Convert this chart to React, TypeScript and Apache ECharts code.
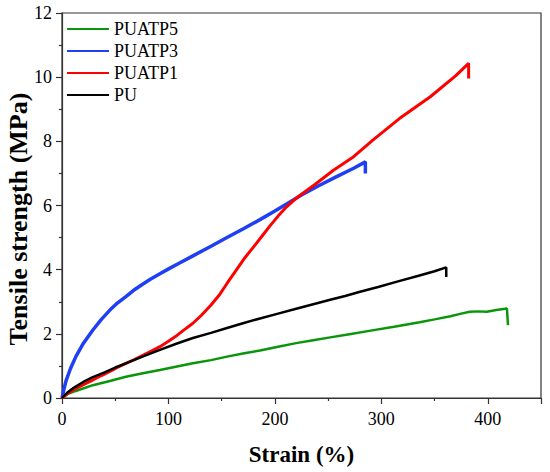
import React, { useEffect, useRef } from "react";
import * as echarts from "echarts";

const seriesNames = ["PUATP5", "PUATP3", "PUATP1", "PU"];

const p5Strain = [0, 5, 13, 29, 45, 60, 76, 92, 108, 123, 140, 155, 170, 186, 203, 220, 236, 252, 270, 290, 312, 336, 350, 365, 375, 383, 391, 399, 408, 418, 419];
const p5Stress = [0, 0.12, 0.22, 0.4, 0.53, 0.66, 0.77, 0.87, 0.98, 1.08, 1.18, 1.29, 1.39, 1.48, 1.6, 1.71, 1.8, 1.89, 1.99, 2.1, 2.22, 2.36, 2.45, 2.55, 2.63, 2.69, 2.7, 2.69, 2.74, 2.79, 2.27];

const p3Strain = [0, 2, 4, 8, 13, 20, 29, 37, 45, 52, 60, 67, 75, 83, 92, 101, 110, 123, 140, 155, 170, 186, 200, 211, 225, 242, 258, 274, 285, 285];
const p3Stress = [0, 0.3, 0.56, 0.92, 1.29, 1.7, 2.12, 2.45, 2.74, 2.96, 3.16, 3.35, 3.53, 3.7, 3.87, 4.04, 4.2, 4.43, 4.73, 5.0, 5.27, 5.56, 5.83, 6.05, 6.33, 6.63, 6.9, 7.16, 7.36, 7.0];

const p1Strain = [0, 5, 10, 15, 22, 29, 37, 45, 52, 60, 68, 76, 84, 92, 100, 108, 115, 123, 131, 140, 148, 155, 165, 172, 180, 188, 195, 203, 211, 218, 225, 237, 255, 274, 292, 317, 346, 370, 382, 382];
const p1Stress = [0, 0.13, 0.24, 0.33, 0.45, 0.56, 0.7, 0.83, 0.95, 1.08, 1.2, 1.33, 1.46, 1.6, 1.77, 1.95, 2.13, 2.33, 2.58, 2.9, 3.22, 3.57, 4.05, 4.38, 4.71, 5.05, 5.35, 5.67, 5.96, 6.17, 6.35, 6.64, 7.1, 7.52, 8.04, 8.71, 9.39, 10.05, 10.43, 9.96];

const puStrain = [0, 5, 12, 20, 29, 40, 50, 60, 75, 92, 108, 123, 140, 155, 170, 186, 203, 220, 236, 252, 266, 280, 297, 314, 335, 350, 361, 361];
const puStress = [0, 0.17, 0.34, 0.5, 0.65, 0.8, 0.95, 1.08, 1.28, 1.5, 1.7, 1.87, 2.03, 2.18, 2.33, 2.48, 2.63, 2.78, 2.92, 3.06, 3.18, 3.31, 3.46, 3.62, 3.81, 3.95, 4.07, 3.77];

const xTicks = [0, 100, 200, 300, 400];
const yTicks = [0, 2, 4, 6, 8, 10, 12];

const colors = ["#0a960a", "#1f3ff5", "#ff0000", "#000000"];
const widths = [2.5, 3.5, 3, 2.5];

const zip = (a: number[], b: number[]) => a.map((x, i) => [x, b[i]]);

export default function App() {
  const ref = useRef<HTMLDivElement>(null);
  useEffect(() => {
    if (!ref.current) return;
    const chart = echarts.init(ref.current, null, { renderer: "svg" });
    const font = "Liberation Serif, Times New Roman, Times, DejaVu Serif, serif";
    const dataSets = [
      zip(p5Strain, p5Stress),
      zip(p3Strain, p3Stress),
      zip(p1Strain, p1Stress),
      zip(puStrain, puStress),
    ];
    chart.setOption({
      animation: false,
      backgroundColor: "#ffffff",
      textStyle: { fontFamily: font },
      grid: {
        left: 62,
        right: 9,
        top: 13,
        bottom: 74,
        show: true,
        borderColor: "#333",
        borderWidth: 1.2,
        outerBoundsMode: "none",
        containLabel: false,
      },
      legend: {
        orient: "vertical",
        left: 67,
        top: 20,
        padding: 0,
        icon: "rect",
        itemWidth: 42,
        itemHeight: 2,
        itemGap: 4,
        data: seriesNames,
        textStyle: { fontFamily: font, fontSize: 18, color: "#000" },
      },
      xAxis: {
        type: "value",
        min: 0,
        max: 450,
        interval: xTicks[1] - xTicks[0],
        name: "Strain (%)",
        nameLocation: "middle",
        nameGap: 45,
        nameMoveOverlap: false,
        nameTextStyle: { fontFamily: font, fontSize: 23, fontWeight: "bold", color: "#000" },
        axisLine: { show: true, lineStyle: { color: "#333", width: 1.2 } },
        axisTick: { show: true, length: 6, lineStyle: { color: "#333", width: 1.2 } },
        minorTick: { show: true, splitNumber: 2, length: 3, lineStyle: { color: "#333", width: 1.2 } },
        splitLine: { show: false },
        axisLabel: {
          fontFamily: font,
          fontSize: 18,
          color: "#000",
          margin: 12,
          formatter: (v: number) => (xTicks.includes(v) ? String(v) : ""),
        },
      },
      yAxis: {
        type: "value",
        min: 0,
        max: 12,
        interval: yTicks[1] - yTicks[0],
        name: "Tensile strength (MPa)",
        nameLocation: "middle",
        nameGap: 31,
        nameMoveOverlap: false,
        nameTextStyle: {
          fontFamily: font,
          fontSize: 26,
          fontWeight: "bold",
          color: "#000",
          padding: [0, 27, 0, 0],
        },
        axisLine: { show: true, lineStyle: { color: "#333", width: 1.2 } },
        axisTick: { show: true, length: 6, lineStyle: { color: "#333", width: 1.2 } },
        minorTick: { show: true, splitNumber: 2, length: 3, lineStyle: { color: "#333", width: 1.2 } },
        splitLine: { show: false },
        axisLabel: { fontFamily: font, fontSize: 18, color: "#000", margin: 10 },
      },
      series: seriesNames.map((name, i) => ({
        name,
        type: "line",
        data: dataSets[i],
        symbol: "none",
        showSymbol: false,
        color: colors[i],
        lineStyle: { color: colors[i], width: widths[i] },
        z: 2 + i,
      })),
    });
    return () => chart.dispose();
  }, []);
  return (
    <div
      ref={ref}
      style={{ position: "fixed", left: 0, top: 0, width: 550, height: 472, background: "#fff" }}
    />
  );
}
